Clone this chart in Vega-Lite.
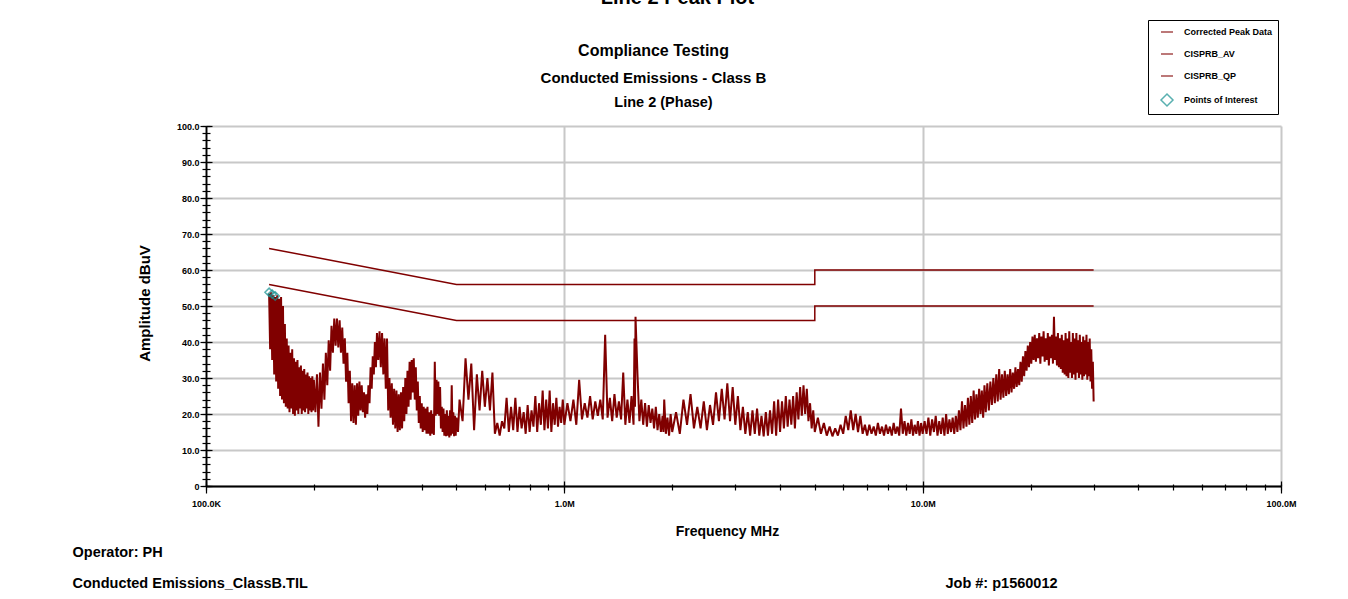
{
  "$schema": "https://vega.github.io/schema/vega-lite/v6.json",
  "autosize": "none",
  "width": 1075,
  "height": 360,
  "padding": {"left": 206, "top": 126, "right": 67, "bottom": 113},
  "background": "white",
  "config": {
    "view": {"stroke": null},
    "font": "Liberation Sans",
    "axis": {
      "labelFont": "Liberation Sans", "titleFont": "Liberation Sans",
      "labelFontWeight": "bold", "titleFontWeight": "bold",
      "labelColor": "black", "titleColor": "black",
      "tickColor": "black", "domainColor": "black", "tickWidth": 1.2
    },
    "legend": {
      "padding": 5, "strokeColor": "black", "fillColor": "white",
      "labelFont": "Liberation Sans", "labelFontSize": 9, "labelFontWeight": "bold", "labelColor": "black",
      "labelOffset": 10, "rowPadding": 10, "symbolSize": 144, "symbolStrokeWidth": 1.5, "symbolOffset": 7
    }
  },
  "datasets": {
    "trace": [
      {"f":0.150,"a":53.5},{"f":0.151,"a":38},{"f":0.152,"a":53.8},{"f":0.153,"a":35},{"f":0.154,"a":53},{"f":0.155,"a":31},{"f":0.156,"a":52.5},{"f":0.157,"a":29},{"f":0.158,"a":53},{"f":0.159,"a":27},
      {"f":0.160,"a":52},{"f":0.161,"a":25},{"f":0.162,"a":52.5},{"f":0.163,"a":24},{"f":0.164,"a":50},{"f":0.165,"a":23},{"f":0.166,"a":45},{"f":0.167,"a":22},{"f":0.168,"a":41},{"f":0.169,"a":21.5},
      {"f":0.170,"a":39},{"f":0.171,"a":20.5},{"f":0.172,"a":37},{"f":0.173,"a":21.5},{"f":0.174,"a":38},{"f":0.175,"a":20},{"f":0.176,"a":35.5},{"f":0.177,"a":19.5},{"f":0.178,"a":34.5},{"f":0.179,"a":21},
      {"f":0.180,"a":35},{"f":0.181,"a":20},{"f":0.182,"a":33},{"f":0.183,"a":21.5},{"f":0.184,"a":33.5},{"f":0.185,"a":20},{"f":0.186,"a":32},{"f":0.187,"a":21},{"f":0.188,"a":32.5},{"f":0.189,"a":20.5},
      {"f":0.190,"a":31},{"f":0.191,"a":21.5},{"f":0.192,"a":31.5},{"f":0.193,"a":20},{"f":0.194,"a":30.5},{"f":0.195,"a":21},{"f":0.196,"a":30},{"f":0.197,"a":20.5},{"f":0.198,"a":30.5},{"f":0.199,"a":21},
      {"f":0.200,"a":29.5},{"f":0.202,"a":20.5},{"f":0.204,"a":31},{"f":0.206,"a":16.5},{"f":0.208,"a":31.5},{"f":0.210,"a":21.5},{"f":0.212,"a":34},{"f":0.214,"a":24},{"f":0.216,"a":37},{"f":0.218,"a":28},
      {"f":0.220,"a":40.5},{"f":0.222,"a":32},{"f":0.224,"a":44.5},{"f":0.226,"a":37},{"f":0.228,"a":46.5},{"f":0.230,"a":39},{"f":0.232,"a":46.5},{"f":0.234,"a":38.5},{"f":0.236,"a":46},{"f":0.238,"a":37},
      {"f":0.240,"a":44},{"f":0.242,"a":34},{"f":0.244,"a":41},{"f":0.246,"a":29},{"f":0.248,"a":37},{"f":0.250,"a":23},{"f":0.252,"a":32},{"f":0.254,"a":18},{"f":0.256,"a":28.5},{"f":0.258,"a":17.5},
      {"f":0.260,"a":28},{"f":0.262,"a":17},{"f":0.264,"a":28.5},{"f":0.266,"a":19.5},{"f":0.268,"a":29},{"f":0.270,"a":21},{"f":0.272,"a":28},{"f":0.274,"a":20.5},{"f":0.276,"a":26},{"f":0.278,"a":19},
      {"f":0.280,"a":25.5},{"f":0.282,"a":20},{"f":0.284,"a":28},{"f":0.286,"a":23},{"f":0.288,"a":33},{"f":0.290,"a":27},{"f":0.292,"a":36},{"f":0.294,"a":31},{"f":0.296,"a":40},{"f":0.298,"a":33},
      {"f":0.300,"a":42.5},{"f":0.3025,"a":35},{"f":0.305,"a":43},{"f":0.3075,"a":33},{"f":0.310,"a":42.5},{"f":0.3125,"a":31},{"f":0.315,"a":41},{"f":0.3175,"a":27},{"f":0.320,"a":41},{"f":0.3225,"a":21},
      {"f":0.325,"a":30},{"f":0.3275,"a":19},{"f":0.330,"a":28.5},{"f":0.3325,"a":17},{"f":0.335,"a":27},{"f":0.3375,"a":16},{"f":0.340,"a":26.5},{"f":0.3425,"a":15},{"f":0.345,"a":25.5},{"f":0.3475,"a":15.5},
      {"f":0.350,"a":26},{"f":0.3525,"a":16},{"f":0.355,"a":27.5},{"f":0.3575,"a":18},{"f":0.360,"a":30},{"f":0.3625,"a":20},{"f":0.365,"a":32},{"f":0.3675,"a":22},{"f":0.370,"a":34.5},{"f":0.3725,"a":24},
      {"f":0.375,"a":35},{"f":0.3775,"a":26},{"f":0.380,"a":35.5},{"f":0.3825,"a":24},{"f":0.385,"a":33},{"f":0.3875,"a":21},{"f":0.390,"a":29},{"f":0.3925,"a":17.5},{"f":0.395,"a":25},{"f":0.3975,"a":16},
      {"f":0.400,"a":23},{"f":0.4025,"a":15},{"f":0.405,"a":22},{"f":0.4075,"a":15.5},{"f":0.410,"a":21.5},{"f":0.4125,"a":14.5},{"f":0.415,"a":22},{"f":0.4175,"a":14.5},{"f":0.420,"a":20.5},{"f":0.4225,"a":14},
      {"f":0.425,"a":21},{"f":0.4275,"a":14.5},{"f":0.430,"a":20},{"f":0.4325,"a":14.2},{"f":0.435,"a":34.5},{"f":0.4375,"a":19.5},{"f":0.440,"a":29.5},{"f":0.4425,"a":20},{"f":0.445,"a":29},{"f":0.4475,"a":19.5},
      {"f":0.450,"a":27.5},{"f":0.4525,"a":16},{"f":0.455,"a":22},{"f":0.4575,"a":15},{"f":0.460,"a":21.5},{"f":0.4625,"a":14},{"f":0.465,"a":20},{"f":0.4675,"a":13.8},{"f":0.470,"a":21},{"f":0.4725,"a":14},
      {"f":0.475,"a":19.5},{"f":0.4775,"a":13.5},{"f":0.480,"a":21},{"f":0.4825,"a":14},{"f":0.485,"a":28},{"f":0.4875,"a":14.5},{"f":0.490,"a":20.5},{"f":0.4925,"a":13.8},{"f":0.495,"a":19.5},{"f":0.4975,"a":14},
      {"f":0.500,"a":19},{"f":0.505,"a":15},
      {"f":0.51,"a":24},{"f":0.52,"a":18},{"f":0.53,"a":35.5},{"f":0.54,"a":24},{"f":0.55,"a":34},{"f":0.56,"a":15.5},{"f":0.57,"a":31},{"f":0.58,"a":21},{"f":0.59,"a":32},{"f":0.60,"a":22},
      {"f":0.61,"a":30},{"f":0.62,"a":21},{"f":0.63,"a":31.5},{"f":0.64,"a":14.5},{"f":0.65,"a":17.5},{"f":0.66,"a":14},{"f":0.67,"a":18},{"f":0.68,"a":16},{"f":0.69,"a":24.5},{"f":0.70,"a":15},
      {"f":0.71,"a":22},{"f":0.72,"a":15.5},{"f":0.73,"a":24.5},{"f":0.74,"a":15},{"f":0.75,"a":22},{"f":0.76,"a":16},{"f":0.77,"a":20.5},{"f":0.78,"a":14.5},{"f":0.79,"a":22.5},{"f":0.80,"a":15},
      {"f":0.81,"a":21},{"f":0.82,"a":16.5},{"f":0.83,"a":25},{"f":0.84,"a":15},{"f":0.85,"a":23},{"f":0.86,"a":17},{"f":0.87,"a":26.5},{"f":0.88,"a":15.5},{"f":0.89,"a":24},{"f":0.90,"a":16},
      {"f":0.91,"a":26.5},{"f":0.92,"a":15},{"f":0.93,"a":23},{"f":0.94,"a":17},{"f":0.95,"a":24.5},{"f":0.96,"a":16.5},{"f":0.97,"a":22},{"f":0.98,"a":17.5},{"f":0.99,"a":24},{"f":1.00,"a":17},
      {"f":1.02,"a":23},{"f":1.04,"a":18},{"f":1.06,"a":24},{"f":1.08,"a":17},{"f":1.10,"a":29.5},{"f":1.12,"a":18.5},{"f":1.14,"a":23},{"f":1.16,"a":19},{"f":1.18,"a":25},{"f":1.20,"a":18.5},
      {"f":1.22,"a":23.5},{"f":1.24,"a":19.5},{"f":1.26,"a":24},{"f":1.28,"a":18.5},{"f":1.30,"a":42},{"f":1.32,"a":19},{"f":1.34,"a":24.5},{"f":1.36,"a":18},{"f":1.38,"a":25.5},{"f":1.40,"a":19},
      {"f":1.42,"a":23.5},{"f":1.44,"a":18.5},{"f":1.46,"a":31.5},{"f":1.48,"a":17},{"f":1.50,"a":24},{"f":1.52,"a":17.5},{"f":1.54,"a":25},{"f":1.56,"a":17},{"f":1.57,"a":41},{"f":1.575,"a":22},
      {"f":1.58,"a":47},{"f":1.60,"a":31},{"f":1.62,"a":18},{"f":1.64,"a":24},{"f":1.66,"a":17},{"f":1.68,"a":23},{"f":1.70,"a":16.5},{"f":1.72,"a":22.5},{"f":1.74,"a":17.5},{"f":1.76,"a":21.5},
      {"f":1.78,"a":16},{"f":1.80,"a":22},{"f":1.82,"a":15.5},{"f":1.84,"a":20},{"f":1.86,"a":15},{"f":1.88,"a":19.5},{"f":1.89,"a":15},{"f":1.90,"a":24},{"f":1.92,"a":14.5},{"f":1.94,"a":19},
      {"f":1.96,"a":14},{"f":1.98,"a":20},{"f":2.00,"a":15},{"f":2.05,"a":20.5},{"f":2.10,"a":14.5},{"f":2.15,"a":24},{"f":2.20,"a":17},{"f":2.25,"a":25.5},{"f":2.30,"a":16},{"f":2.35,"a":22},
      {"f":2.40,"a":16},{"f":2.45,"a":23.5},{"f":2.50,"a":15.5},{"f":2.55,"a":22.5},{"f":2.60,"a":17},{"f":2.65,"a":26},{"f":2.70,"a":18},{"f":2.75,"a":27},{"f":2.80,"a":18.5},{"f":2.85,"a":28.5},
      {"f":2.90,"a":18},{"f":2.95,"a":27.5},{"f":3.00,"a":17},{"f":3.05,"a":25},{"f":3.10,"a":15.5},{"f":3.15,"a":22},{"f":3.20,"a":14.5},{"f":3.25,"a":20.5},{"f":3.30,"a":14},{"f":3.35,"a":21},
      {"f":3.40,"a":14.5},{"f":3.45,"a":21.5},{"f":3.50,"a":14},{"f":3.55,"a":19.5},{"f":3.60,"a":13.8},{"f":3.65,"a":20.5},{"f":3.70,"a":14},{"f":3.75,"a":21},{"f":3.80,"a":14.5},{"f":3.85,"a":23.5},
      {"f":3.90,"a":14},{"f":3.95,"a":24},{"f":4.00,"a":15},{"f":4.05,"a":23.5},{"f":4.10,"a":16},{"f":4.15,"a":25},{"f":4.20,"a":16.5},{"f":4.25,"a":24},{"f":4.30,"a":17},{"f":4.35,"a":25},
      {"f":4.40,"a":16},{"f":4.45,"a":26},{"f":4.50,"a":18.5},{"f":4.55,"a":27.5},{"f":4.60,"a":19.5},{"f":4.65,"a":28},{"f":4.70,"a":20},{"f":4.75,"a":27},{"f":4.80,"a":18},{"f":4.85,"a":23},
      {"f":4.90,"a":16},{"f":4.95,"a":21},{"f":5.00,"a":15},{"f":5.1,"a":19},{"f":5.2,"a":14.5},{"f":5.3,"a":17.5},{"f":5.4,"a":14},{"f":5.5,"a":16.5},{"f":5.6,"a":13.8},{"f":5.7,"a":16},
      {"f":5.8,"a":14},{"f":5.9,"a":17},{"f":6.0,"a":14.5},{"f":6.1,"a":19.5},{"f":6.2,"a":15.5},{"f":6.3,"a":21},{"f":6.4,"a":15.5},{"f":6.5,"a":20},{"f":6.6,"a":15},{"f":6.7,"a":19.5},
      {"f":6.8,"a":14.5},{"f":6.9,"a":17},{"f":7.0,"a":14},{"f":7.1,"a":17},{"f":7.2,"a":14.5},{"f":7.3,"a":16.5},{"f":7.4,"a":14},{"f":7.5,"a":17.5},{"f":7.6,"a":14.5},{"f":7.7,"a":16.5},
      {"f":7.8,"a":14},{"f":7.9,"a":17},{"f":8.0,"a":14.5},{"f":8.1,"a":16.5},{"f":8.2,"a":14},{"f":8.3,"a":17.5},{"f":8.4,"a":14.5},{"f":8.5,"a":16.5},{"f":8.6,"a":14},{"f":8.7,"a":21.5},
      {"f":8.8,"a":14.5},{"f":8.9,"a":18},{"f":9.0,"a":14},{"f":9.1,"a":17.5},{"f":9.2,"a":14.5},{"f":9.3,"a":18.5},{"f":9.4,"a":14},{"f":9.5,"a":17},{"f":9.6,"a":14.5},{"f":9.7,"a":18},
      {"f":9.8,"a":14},{"f":9.9,"a":17.5},{"f":10.0,"a":14.5},
      {"f":10.125,"a":18},{"f":10.25,"a":14.5},{"f":10.375,"a":19},{"f":10.5,"a":14},{"f":10.625,"a":18.5},{"f":10.75,"a":15},{"f":10.875,"a":19.5},{"f":11.0,"a":14},{"f":11.125,"a":18},{"f":11.25,"a":14.5},
      {"f":11.375,"a":19},{"f":11.5,"a":14},{"f":11.625,"a":20},{"f":11.75,"a":14.5},{"f":11.875,"a":18.5},{"f":12.0,"a":15},{"f":12.125,"a":19},{"f":12.25,"a":14.5},{"f":12.375,"a":19.5},{"f":12.5,"a":15},
      {"f":12.625,"a":21},{"f":12.75,"a":15.5},{"f":12.875,"a":23.5},{"f":13.0,"a":16},{"f":13.125,"a":22.5},{"f":13.25,"a":16.5},{"f":13.375,"a":24.5},{"f":13.5,"a":17},{"f":13.625,"a":25},{"f":13.75,"a":17.5},
      {"f":13.875,"a":26.5},{"f":14.0,"a":18.5},{"f":14.125,"a":25.5},{"f":14.25,"a":19},{"f":14.375,"a":27},{"f":14.5,"a":20},{"f":14.625,"a":26.5},{"f":14.75,"a":19},{"f":14.875,"a":28},{"f":15.0,"a":20.5},
      {"f":15.15,"a":28.5},{"f":15.3,"a":21},{"f":15.45,"a":29},{"f":15.6,"a":22.5},{"f":15.75,"a":30},{"f":15.9,"a":23},{"f":16.05,"a":31},{"f":16.2,"a":23.5},{"f":16.35,"a":32.5},{"f":16.5,"a":24},
      {"f":16.65,"a":31},{"f":16.8,"a":24.5},{"f":16.95,"a":32},{"f":17.1,"a":25},{"f":17.25,"a":31},{"f":17.4,"a":25.5},{"f":17.55,"a":32.5},{"f":17.7,"a":26},{"f":17.85,"a":31.5},{"f":18.0,"a":27},
      {"f":18.15,"a":33},{"f":18.3,"a":27.5},{"f":18.45,"a":32.5},{"f":18.6,"a":28},{"f":18.75,"a":34.5},{"f":18.9,"a":29},{"f":19.05,"a":36},{"f":19.2,"a":30.5},{"f":19.35,"a":37.5},{"f":19.5,"a":32},
      {"f":19.65,"a":39},{"f":19.8,"a":33},{"f":19.95,"a":40},{"f":20.1,"a":34},{"f":20.25,"a":41.5},{"f":20.4,"a":35},{"f":20.55,"a":42},{"f":20.7,"a":34.5},{"f":20.85,"a":41},{"f":21.0,"a":35.5},
      {"f":21.15,"a":42.5},{"f":21.3,"a":34},{"f":21.45,"a":41.5},{"f":21.6,"a":36},{"f":21.75,"a":43},{"f":21.9,"a":34.5},{"f":22.05,"a":41},{"f":22.2,"a":35},{"f":22.35,"a":42.5},{"f":22.5,"a":33.5},
      {"f":22.65,"a":41.5},{"f":22.8,"a":35.5},{"f":22.95,"a":42},{"f":23.1,"a":34},{"f":23.25,"a":47},{"f":23.4,"a":35},{"f":23.55,"a":41.5},{"f":23.7,"a":33.5},{"f":23.85,"a":42.5},{"f":24.0,"a":33},
      {"f":24.15,"a":41},{"f":24.3,"a":32.5},{"f":24.45,"a":42},{"f":24.6,"a":31.5},{"f":24.75,"a":40.5},{"f":24.9,"a":31},{"f":25.05,"a":42.5},{"f":25.2,"a":30.5},{"f":25.35,"a":41},{"f":25.5,"a":30},
      {"f":25.65,"a":43},{"f":25.8,"a":31.5},{"f":25.95,"a":40},{"f":26.1,"a":30},{"f":26.25,"a":42.5},{"f":26.4,"a":31},{"f":26.55,"a":41},{"f":26.7,"a":29.5},{"f":26.85,"a":42.5},{"f":27.0,"a":31.5},
      {"f":27.15,"a":40.5},{"f":27.3,"a":30},{"f":27.45,"a":42},{"f":27.6,"a":31},{"f":27.75,"a":40},{"f":27.9,"a":29.5},{"f":28.05,"a":41.5},{"f":28.2,"a":30.5},{"f":28.35,"a":40.5},{"f":28.5,"a":31},
      {"f":28.65,"a":42},{"f":28.8,"a":29.5},{"f":28.95,"a":40},{"f":29.1,"a":30.5},{"f":29.25,"a":41},{"f":29.4,"a":29},{"f":29.55,"a":38},{"f":29.7,"a":27},{"f":29.85,"a":34.5},{"f":30.0,"a":23.5}
    ],
    "av": [
      {"f":0.15,"a":56,"o":1},{"f":0.5,"a":46,"o":2},{"f":5,"a":46,"o":3},{"f":5,"a":50,"o":4},{"f":30,"a":50,"o":5}
    ],
    "qp": [
      {"f":0.15,"a":66,"o":1},{"f":0.5,"a":56,"o":2},{"f":5,"a":56,"o":3},{"f":5,"a":60,"o":4},{"f":30,"a":60,"o":5}
    ],
    "poi": [
      {"f":0.150,"a":53.8},{"f":0.153,"a":53.3},{"f":0.156,"a":52.8}
    ]
  },
  "layer": [
    {
      "data": {"name": "trace"},
      "mark": {"type": "line", "strokeWidth": 2, "strokeJoin": "bevel"},
      "encoding": {
        "x": {
          "field": "f", "type": "quantitative",
          "scale": {"type": "log", "domain": [0.1, 100], "nice": false},
          "axis": {
            "orient": "bottom", "values": [0.1, 1, 10, 100],
            "labelExpr": "datum.value < 1 ? format(datum.value * 1000, '.1f') + 'K' : format(datum.value, '.1f') + 'M'",
            "labelFlush": false, "labelOverlap": false, "labelFontSize": 9, "labelPadding": 6,
            "tickSize": 7, "domainWidth": 1.8, "grid": true, "gridColor": "#c8c8c8", "gridWidth": 2,
            "title": "Frequency MHz", "titleFontSize": 14, "titleX": 521, "titleY": 49,
            "titleAlign": "center", "titleBaseline": "alphabetic", "titleAngle": 0
          }
        },
        "y": {
          "field": "a", "type": "quantitative",
          "scale": {"domain": [0, 100], "nice": false},
          "axis": {
            "orient": "left", "values": [0, 10, 20, 30, 40, 50, 60, 70, 80, 90, 100],
            "labelExpr": "datum.value == 0 ? '0' : format(datum.value, '.1f')",
            "labelFontSize": 9, "labelPadding": 1, "tickSize": 6, "domainWidth": 1.8,
            "grid": true, "gridColor": "#c8c8c8", "gridWidth": 2,
            "title": "Amplitude dBuV", "titleFontSize": 15, "titleAngle": 270,
            "titleX": -57, "titleY": 177, "titleAlign": "center", "titleBaseline": "alphabetic"
          }
        },
        "color": {
          "datum": "Corrected Peak Data", "type": "nominal",
          "scale": {
            "domain": ["Corrected Peak Data", "CISPRB_AV", "CISPRB_QP", "Points of Interest"],
            "range": ["#800000", "#800000", "#800000", "#148f8f"]
          },
          "legend": {"title": null, "orient": "none", "legendX": 942, "legendY": -106}
        }
      }
    },
    {
      "data": {"name": "av"},
      "mark": {"type": "line", "strokeWidth": 1.5},
      "encoding": {
        "x": {
          "field": "f", "type": "quantitative",
          "axis": {
            "orient": "bottom",
            "values": [0.1,0.2,0.3,0.4,0.5,0.6,0.7,0.8,0.9,1,2,3,4,5,6,7,8,9,10,20,30,40,50,60,70,80,90,100],
            "labels": false, "domain": false, "grid": false, "tickSize": -2,
            "title": ["Operator: PH", "Conducted Emissions_ClassB.TIL"], "titleFontSize": 14.5, "titleLineHeight": 31,
            "titleX": -134, "titleY": 70, "titleAlign": "left", "titleBaseline": "alphabetic", "titleAngle": 0
          }
        },
        "y": {
          "field": "a", "type": "quantitative",
          "axis": {
            "orient": "left",
            "values": [0,2,4,6,8,10,12,14,16,18,20,22,24,26,28,30,32,34,36,38,40,42,44,46,48,50,52,54,56,58,60,62,64,66,68,70,72,74,76,78,80,82,84,86,88,90,92,94,96,98,100],
            "labels": false, "domain": false, "grid": false, "tickSize": -4,
            "title": "Line 2 Peak Plot", "titleFontSize": 20, "titleAngle": 0,
            "titleX": 471, "titleY": -123, "titleAlign": "center", "titleBaseline": "alphabetic"
          }
        },
        "order": {"field": "o", "type": "quantitative"},
        "color": {"datum": "CISPRB_AV", "type": "nominal", "legend": {"title": null}}
      }
    },
    {
      "data": {"name": "qp"},
      "mark": {"type": "line", "strokeWidth": 1.5},
      "encoding": {
        "x": {
          "field": "f", "type": "quantitative",
          "axis": {
            "orient": "bottom",
            "values": [0.1,0.2,0.3,0.4,0.5,0.6,0.7,0.8,0.9,1,2,3,4,5,6,7,8,9,10,20,30,40,50,60,70,80,90,100],
            "labels": false, "domain": false, "grid": false, "tickSize": 4,
            "title": "Job #: p1560012", "titleFontSize": 14.5,
            "titleX": 739, "titleY": 101, "titleAlign": "left", "titleBaseline": "alphabetic", "titleAngle": 0
          }
        },
        "y": {
          "field": "a", "type": "quantitative",
          "axis": {
            "orient": "left",
            "values": [0,2,4,6,8,10,12,14,16,18,20,22,24,26,28,30,32,34,36,38,40,42,44,46,48,50,52,54,56,58,60,62,64,66,68,70,72,74,76,78,80,82,84,86,88,90,92,94,96,98,100],
            "labels": false, "domain": false, "grid": false, "tickSize": 4,
            "title": "Line 2 (Phase)", "titleFontSize": 14.5, "titleAngle": 0,
            "titleX": 457, "titleY": -20, "titleAlign": "center", "titleBaseline": "alphabetic"
          }
        },
        "order": {"field": "o", "type": "quantitative"},
        "color": {"datum": "CISPRB_QP", "type": "nominal", "legend": {"title": null}}
      }
    },
    {
      "data": {"name": "poi"},
      "mark": {"type": "point", "filled": false, "size": 70, "strokeWidth": 1.5},
      "encoding": {
        "x": {
          "field": "f", "type": "quantitative",
          "axis": {
            "orient": "bottom", "values": [0.1, 1, 10, 100],
            "labels": false, "domain": false, "grid": false, "tickSize": -5,
            "title": "Compliance Testing", "titleFontSize": 16,
            "titleX": 447, "titleY": -431, "titleAlign": "center", "titleBaseline": "alphabetic", "titleAngle": 0
          }
        },
        "y": {
          "field": "a", "type": "quantitative",
          "axis": {
            "orient": "left", "values": [0, 10, 20, 30, 40, 50, 60, 70, 80, 90, 100],
            "labels": false, "domain": false, "grid": false, "tickSize": -6,
            "title": "Conducted Emissions - Class B", "titleFontSize": 15, "titleAngle": 0,
            "titleX": 447, "titleY": -44, "titleAlign": "center", "titleBaseline": "alphabetic"
          }
        },
        "color": {"datum": "Points of Interest", "type": "nominal", "legend": {"title": null}},
        "shape": {
          "datum": "Points of Interest", "type": "nominal",
          "scale": {
            "domain": ["Corrected Peak Data", "CISPRB_AV", "CISPRB_QP", "Points of Interest"],
            "range": ["stroke", "stroke", "stroke", "diamond"]
          },
          "legend": {"title": null}
        }
      }
    }
  ],
  "resolve": {"axis": {"x": "independent", "y": "independent"}}
}
